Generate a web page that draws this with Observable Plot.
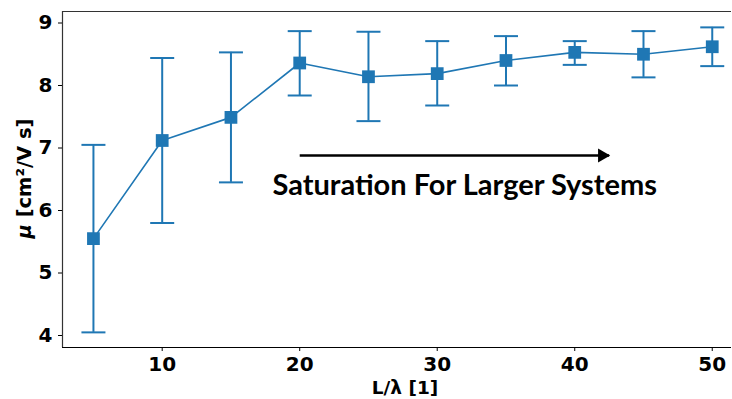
<!DOCTYPE html>
<html><head><meta charset="utf-8">
<script src="https://cdn.jsdelivr.net/npm/d3@7"></script>
<script src="https://cdn.jsdelivr.net/npm/@observablehq/plot@0.6"></script>
<style>body{margin:0;background:#fff}</style>
</head><body><div id="chart"></div>
<script>
const sizes = [5, 10, 15, 20, 25, 30, 35, 40, 45, 50];
const mobility = [5.55, 7.12, 7.49, 8.36, 8.14, 8.19, 8.40, 8.53, 8.50, 8.62];
const errLow = [4.05, 5.80, 6.45, 7.84, 7.43, 7.68, 8.00, 8.33, 8.13, 8.31];
const errHigh = [7.05, 8.44, 8.53, 8.87, 8.86, 8.71, 8.79, 8.71, 8.87, 8.93];
const xTicks = [10, 20, 30, 40, 50];
const yTicks = [4, 5, 6, 7, 8, 9];
const xLabel = "L/λ [1]";
const yLabel = "μ [cm²/V s]";
const annotationText = "Saturation For Larger Systems";
const arrowFrom = [20];
const arrowTo = [42.5];
const arrowLevel = [6.88];
const textPos = [32];
const textLevel = [6.4];

const data = sizes.map((s, i) => ({x: s, y: mobility[i], lo: errLow[i], hi: errHigh[i]}));
const arrow = [{x1: arrowFrom[0], x2: arrowTo[0], y: arrowLevel[0]}];
const note = [{x: textPos[0], y: textLevel[0], t: annotationText}];

const blue = "#1f77b4";
const capSymbol = {draw(ctx, size) { const h = Math.sqrt(size / Math.PI); ctx.moveTo(-h, 0); ctx.lineTo(h, 0); }};
const xDom = [2.75, 51.4], yDom = [3.808, 9.184];

const chart = Plot.plot({
  width: 732, height: 399,
  marginLeft: 62, marginRight: 1, marginTop: 11, marginBottom: 52,
  style: {fontFamily: "DejaVu Sans", fontWeight: "bold", color: "black", background: "white"},
  x: {domain: xDom},
  y: {domain: yDom},
  marks: [
    Plot.ruleX([xDom[0]], {stroke: "#333", strokeWidth: 1.2}),
    Plot.ruleY([yDom[1]], {stroke: "#333", strokeWidth: 1.2}),
    Plot.ruleY([yDom[0]], {stroke: "#000", strokeWidth: 1.2}),
    Plot.axisX({ticks: xTicks, tickFormat: "d", tickSize: 4, tickPadding: 5, fontSize: 20, label: null}),
    Plot.axisY({ticks: yTicks, tickFormat: "d", tickSize: 4, tickPadding: 6, fontSize: 20, label: null}),
    Plot.text([xLabel], {frameAnchor: "bottom", dy: 41, dx: 8, fontSize: 18.5, fontWeight: "bold", textAnchor: "middle", lineAnchor: "middle"}),
    Plot.text([yLabel], {frameAnchor: "left", dx: -38, dy: -1, rotate: -90, fontSize: 19.5, fontWeight: "bold", textAnchor: "middle", lineAnchor: "middle", className: "ylab"}),
    Plot.ruleX(data, {x: "x", y1: "lo", y2: "hi", stroke: blue, strokeWidth: 2}),
    Plot.dot(data, {x: "x", y: "lo", symbol: capSymbol, r: 12, stroke: blue, fill: "none", strokeWidth: 2}),
    Plot.dot(data, {x: "x", y: "hi", symbol: capSymbol, r: 12, stroke: blue, fill: "none", strokeWidth: 2}),
    Plot.line(data, {x: "x", y: "y", stroke: blue, strokeWidth: 1.6}),
    Plot.dot(data, {x: "x", y: "y", symbol: "square", r: 7.2, fill: blue, stroke: "none"}),
    Plot.link(arrow, {x1: "x1", x2: "x2", y1: "y", y2: "y", stroke: "black", strokeWidth: 2.6}),
    Plot.dot(arrow, {x: "x2", y: "y", symbol: "triangle", r: 5.2, rotate: 90, fill: "black", stroke: "none", dx: -7}),
    Plot.text(note, {x: "x", y: "y", text: "t", fontFamily: "Lato", fontWeight: "bold", fontSize: 29, fill: "black"})
  ]
});
document.getElementById("chart").appendChild(chart);
// italic mu in y label
d3.select(chart).selectAll(".ylab text").each(function() {
  const t = d3.select(this);
  const s = t.text();
  t.text(null);
  t.append("tspan").attr("font-style", "italic").text(s.slice(0, 1));
  t.append("tspan").text(s.slice(1));
});
</script>
</body></html>
